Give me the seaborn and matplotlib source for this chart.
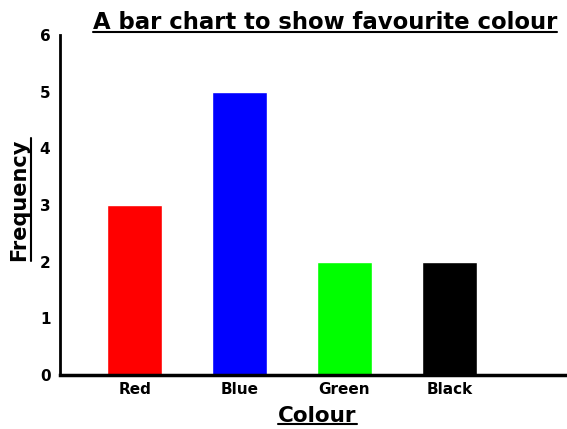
import pandas as pd
import matplotlib
matplotlib.use("Agg")
import matplotlib.pyplot as plt
import seaborn as sns
from matplotlib.lines import Line2D

# data
colours = ["Red", "Blue", "Green", "Black"]
frequency = [3, 5, 2, 2]
bar_colours = ["#ff0000", "#0000ff", "#00ff00", "#000000"]

sns.set_theme(style="white")
plt.rcParams["font.family"] = ["DejaVu Sans"]
plt.rcParams["text.color"] = "black"

df = pd.DataFrame({"Colour": colours, "Frequency": frequency})

fig = plt.figure(figsize=(5.67, 4.29), dpi=100)
ax = fig.add_axes([0.106, 0.126, 0.894, 0.792])

sns.barplot(data=df, x="Colour", y="Frequency", hue="Colour",
            palette=bar_colours, width=0.52, saturation=1, legend=False, ax=ax)

ax.set_ylim(0, 6)
ax.set_xlim(-0.71, 4.12)
ax.set_yticks(range(0, 7))
ax.set_xlabel("")
ax.set_ylabel("")
ax.tick_params(axis="both", length=0, labelsize=11, colors="black")
ax.tick_params(axis="y", pad=7)
ax.tick_params(axis="x", pad=5)
for lbl in ax.get_xticklabels() + ax.get_yticklabels():
    lbl.set_fontweight("bold")

sns.despine(ax=ax, top=True, right=True)
ax.spines["left"].set_linewidth(2)
ax.spines["bottom"].set_linewidth(2.5)
ax.spines["left"].set_color("black")
ax.spines["bottom"].set_color("black")

# titles with underline
title = fig.text(0.573, 0.948, "A bar chart to show favourite colour",
                 ha="center", va="center", fontsize=16.4, fontweight="bold")
xlab = fig.text(0.56, 0.031, "Colour", ha="center", va="center",
                fontsize=15.5, fontweight="bold")
ylab = fig.text(0.034, 0.535, "Frequency", ha="center", va="center",
                fontsize=15, fontweight="bold", rotation=90)

fig.canvas.draw()
renderer = fig.canvas.get_renderer()
inv = fig.transFigure.inverted()
for t, vertical in [(title, False), (xlab, False), (ylab, True)]:
    bb = t.get_window_extent(renderer).transformed(inv)
    if vertical:
        x = bb.x1 + 0.003
        fig.add_artist(Line2D([x, x], [bb.y0, bb.y1], color="black", lw=1.5,
                              transform=fig.transFigure))
    else:
        y = bb.y0 + 0.005
        fig.add_artist(Line2D([bb.x0, bb.x1], [y, y], color="black", lw=1.5,
                              transform=fig.transFigure))

fig.savefig("out.png", dpi=100)
